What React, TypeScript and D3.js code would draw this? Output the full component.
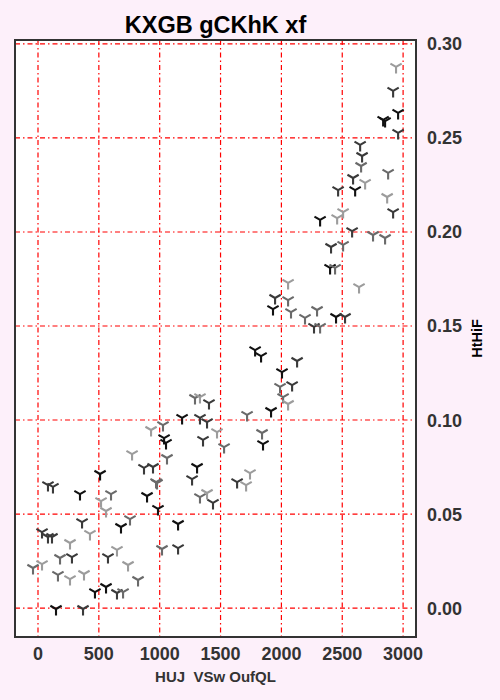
import React, { useEffect } from "react";
import * as d3 from "d3";

const title = "KXGB gCKhK xf";
const xLabel = "HUJ  VSw OufQL";
const yLabel = "HtHiF";
const xTicks = [0, 500, 1000, 1500, 2000, 2500, 3000];
const yTicks = [0, 0.05, 0.1, 0.15, 0.2, 0.25, 0.3];

// shade: 0 black, 1 dark, 2 gray, 3 light
const xs = [82, 123, 345, 600, 518, 559, 896, 986, 978, 362, 427, 33, 82, 115, 682, 756, 1151, 263, 181, 279, 33, -41, 575, 649, 1019, 1151, 740, 164, 263, 378, 822, 468, 559, 649, 699, 148, 370, 510, 1290, 1331, 1405, 1184, 1331, 1389, 1718, 1915, 1027, 929, 1036, 1052, 1356, 1471, 1529, 1841, 1849, 773, 871, 945, 1060, 1307, 1266, 970, 1636, 1710, 1742, 1389, 1331, 1438, 2400, 2441, 2638, 2055, 1948, 2055, 1931, 2079, 2194, 2293, 2268, 2318, 2449, 2523, 1784, 1833, 2129, 2005, 1989, 2088, 2014, 2055, 2942, 2918, 2959, 2836, 2852, 2959, 2647, 2663, 2655, 2877, 2589, 2688, 2466, 2606, 2869, 2918, 2507, 2458, 2318, 2581, 2753, 2852, 2408, 2507];
const ys = [0.0654, 0.0644, 0.0606, 0.0606, 0.0569, 0.0516, 0.0596, 0.0527, 0.0665, 0.0457, 0.0394, 0.0404, 0.0378, 0.0378, 0.0431, 0.0473, 0.0447, 0.0346, 0.0266, 0.0271, 0.0234, 0.0213, 0.0271, 0.0309, 0.0314, 0.0319, 0.0229, 0.0176, 0.0154, 0.0181, 0.0149, 0.0085, 0.0112, 0.008, 0.0085, -0.0005, -0.0005, 0.0713, 0.1117, 0.1122, 0.109, 0.1011, 0.1011, 0.0989, 0.1027, 0.1048, 0.0973, 0.0947, 0.0904, 0.0878, 0.0894, 0.0936, 0.0856, 0.0931, 0.0872, 0.0819, 0.0745, 0.075, 0.0798, 0.075, 0.0686, 0.067, 0.067, 0.0654, 0.0718, 0.0612, 0.059, 0.0559, 0.1809, 0.1809, 0.1707, 0.1729, 0.1649, 0.1638, 0.159, 0.1574, 0.1543, 0.1585, 0.1495, 0.1495, 0.1548, 0.1548, 0.1372, 0.134, 0.1314, 0.1255, 0.1176, 0.1186, 0.1122, 0.1085, 0.2878, 0.275, 0.2633, 0.2596, 0.259, 0.2527, 0.2463, 0.2404, 0.2351, 0.2314, 0.2287, 0.2261, 0.2223, 0.2223, 0.2186, 0.2106, 0.2106, 0.2074, 0.2064, 0.2005, 0.1984, 0.1968, 0.192, 0.1931];
const shades = [1, 1, 0, 2, 3, 3, 0, 0, 2, 1, 3, 1, 1, 1, 0, 2, 0, 3, 2, 1, 3, 2, 1, 3, 2, 1, 3, 2, 3, 3, 2, 0, 0, 1, 2, 0, 1, 0, 2, 3, 1, 0, 1, 1, 2, 0, 2, 3, 0, 0, 1, 3, 2, 2, 0, 3, 1, 1, 2, 0, 1, 2, 1, 3, 3, 3, 2, 1, 0, 2, 3, 3, 1, 2, 0, 2, 2, 2, 1, 2, 0, 1, 0, 0, 1, 0, 2, 1, 2, 3, 3, 1, 0, 0, 0, 1, 1, 1, 2, 2, 1, 3, 1, 0, 3, 1, 3, 3, 0, 1, 2, 2, 1, 2];
const shadeColors = ["#111111", "#3a3a3a", "#6a6a6a", "#9c9c9c"];

const W = 500, H = 700;
const L = 15, R = 416, T = 40, B = 637;

export default function App() {
  useEffect(() => {
    document.body.style.margin = "0";
  }, []);
  const x = d3.scaleLinear().domain([-189, 3106]).range([L, R]);
  const y = d3.scaleLinear().domain([-0.0154, 0.3021]).range([B, T]);
  const r = 6.5;
  const font = "'Liberation Sans', Arial, sans-serif";
  const tri = (cx: number, cy: number) => {
    const p = d3.path();
    p.moveTo(cx, cy); p.lineTo(cx, cy + r);
    p.moveTo(cx, cy); p.lineTo(cx - r * 0.866, cy - r * 0.5);
    p.moveTo(cx, cy); p.lineTo(cx + r * 0.866, cy - r * 0.5);
    return p.toString();
  };
  return (
    <svg width={W} height={H} style={{ position: "absolute", left: 0, top: 0, display: "block" }} fontFamily={font}>
      <rect width={W} height={H} fill="#fdf0fa" />
      <rect x={L} y={T} width={R - L} height={B - T} fill="#ffffff" />
      {xTicks.map((t) => (
        <line key={"gx" + t} x1={x(t)} x2={x(t)} y1={T} y2={B} stroke="#ff0000" strokeWidth={1.2} strokeDasharray="5,3,1.5,3" />
      ))}
      {yTicks.map((t) => (
        <line key={"gy" + t} x1={L} x2={R} y1={y(t)} y2={y(t)} stroke="#ff0000" strokeWidth={1.2} strokeDasharray="5,3,1.5,3" />
      ))}
      {xs.map((v, i) => (
        <path key={"p" + i} d={tri(x(v), y(ys[i]))} stroke={shadeColors[shades[i]]} strokeWidth={2.1} fill="none" />
      ))}
      <rect x={L} y={T} width={R - L} height={B - T} fill="none" stroke="#333333" strokeWidth={2} />
      {xTicks.map((t) => (
        <text key={"tx" + t} x={x(t)} y={660} textAnchor="middle" fontSize={18} fontWeight="bold" fill="#333333">{t}</text>
      ))}
      {yTicks.map((t) => (
        <text key={"ty" + t} x={427} y={y(t) + 6.5} textAnchor="start" fontSize={18} fontWeight="bold" fill="#333333">{d3.format(".2f")(t)}</text>
      ))}
      <text x={(L + R) / 2} y={33} textAnchor="middle" fontSize={23.5} fontWeight="bold" fill="#000">{title}</text>
      <text x={(L + R) / 2} y={682} textAnchor="middle" fontSize={15} fontWeight="bold" fill="#333333" style={{ whiteSpace: "pre" }}>{xLabel}</text>
      <text transform={`translate(482,${(T + B) / 2}) rotate(-90)`} textAnchor="middle" fontSize={14.5} fontWeight="bold" fill="#000">{yLabel}</text>
    </svg>
  );
}
